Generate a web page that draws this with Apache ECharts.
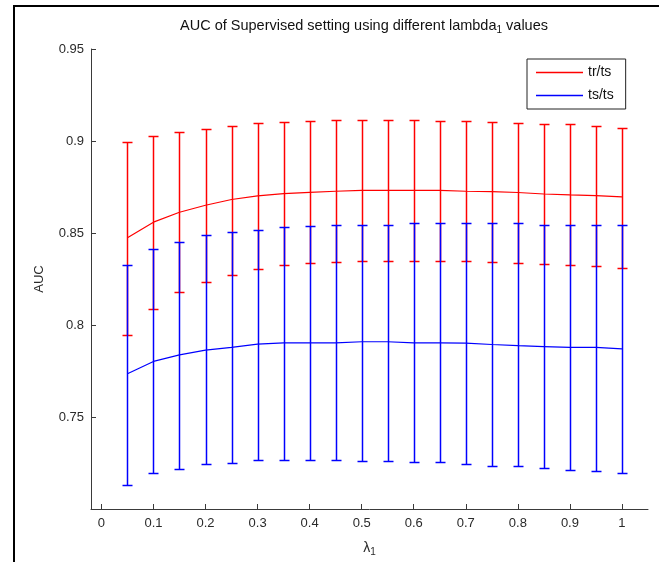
<!DOCTYPE html>
<html>
<head>
<meta charset="utf-8">
<script src="https://cdn.jsdelivr.net/npm/echarts@6/dist/echarts.min.js"></script>
<style>html,body{margin:0;padding:0;background:#fff;}#c{width:659px;height:562px;}</style>
</head>
<body>
<div id="c"></div>
<script>
// ---- data ----
const lambdas = [0.05,0.10,0.15,0.20,0.25,0.30,0.35,0.40,0.45,0.50,0.55,0.60,0.65,0.70,0.75,0.80,0.85,0.90,0.95,1.00];

const trtsMean  = [0.8474,0.8559,0.8613,0.8651,0.8682,0.8702,0.8714,0.8721,0.8727,0.8732,0.8732,0.8732,0.8732,0.8727,0.8725,0.8720,0.8712,0.8707,0.8703,0.8696];
const trtsUpper = [0.8996,0.9027,0.9047,0.9065,0.9083,0.9097,0.9104,0.9111,0.9115,0.9115,0.9115,0.9115,0.9111,0.9110,0.9104,0.9097,0.9090,0.9090,0.9083,0.9070];
const trtsLower = [0.7946,0.8087,0.8178,0.8235,0.8273,0.8304,0.8324,0.8337,0.8344,0.8349,0.8349,0.8349,0.8349,0.8349,0.8344,0.8337,0.8331,0.8324,0.8318,0.8311];

const tstsMean  = [0.7735,0.7802,0.7838,0.7863,0.7878,0.7896,0.7903,0.7903,0.7903,0.7909,0.7909,0.7903,0.7903,0.7901,0.7894,0.7888,0.7883,0.7878,0.7878,0.7870];
const tstsUpper = [0.8324,0.8412,0.8452,0.8487,0.8503,0.8515,0.8530,0.8537,0.8542,0.8546,0.8546,0.8553,0.8553,0.8553,0.8553,0.8553,0.8546,0.8546,0.8542,0.8541];
const tstsLower = [0.7128,0.7193,0.7218,0.7243,0.7250,0.7268,0.7268,0.7268,0.7268,0.7263,0.7263,0.7258,0.7258,0.7243,0.7236,0.7231,0.7223,0.7213,0.7206,0.7198];

const xTicks = [0,0.1,0.2,0.3,0.4,0.5,0.6,0.7,0.8,0.9,1];
const yTicks = [0.75,0.8,0.85,0.9,0.95];

const seriesNames = ['tr/ts','ts/ts'];
const seriesColors = ['#ff0000','#0000ff'];
const titleText = 'AUC of Supervised setting using different lambda{sub|1} values';

// ---- build ----
const FONT = '"Liberation Sans", Arial, Helvetica, sans-serif';
function pairs(xs, ys){ return xs.map((x,i)=>[x, ys[i]]); }
function bars(xs, lo, hi){ return xs.map((x,i)=>[x, lo[i], hi[i]]); }

function errRender(color){
  return function(params, api){
    const x = api.value(0);
    const pLo = api.coord([x, api.value(1)]);
    const pHi = api.coord([x, api.value(2)]);
    const cx = Math.round(pLo[0]) + 0.5;
    const yl = Math.round(pLo[1]) + 0.5;
    const yh = Math.round(pHi[1]) + 0.5;
    const hw = 5;
    const st = {stroke: color, lineWidth: 1.5};
    return {type:'group', children:[
      {type:'line', shape:{x1:cx, y1:yl, x2:cx, y2:yh}, style:st},
      {type:'line', shape:{x1:cx-hw, y1:yl, x2:cx+hw, y2:yl}, style:st},
      {type:'line', shape:{x1:cx-hw, y1:yh, x2:cx+hw, y2:yh}, style:st}
    ]};
  };
}

const chart = echarts.init(document.getElementById('c'), null, {renderer:'canvas'});
const axisCol = '#3a3a3a';
const labCol = '#2a2a2a';

chart.setOption({
  animation: false,
  backgroundColor: '#fff',
  color: seriesColors,
  textStyle: {fontFamily: FONT},
  grid: {left: 91, top: 49, right: 11, bottom: 52, containLabel: false},
  xAxis: {
    type: 'value', min: -0.02, max: 1.05,
    name: '{a|λ}{sub|1}', nameLocation: 'middle', nameGap: 30,
    nameTextStyle: {rich: {a:{fontSize:14, color:labCol, fontFamily:FONT}, sub:{fontSize:10, color:labCol, fontFamily:FONT, padding:[8,0,0,0]}}},
    axisLine: {show:true, onZero:false, lineStyle:{color:axisCol, width:1}},
    axisTick: {show:true, inside:true, length:5, customValues: xTicks, lineStyle:{color:axisCol}},
    axisLabel: {show:true, customValues: xTicks, fontSize:13, color:labCol, margin:8, fontFamily:FONT, formatter: v => String(+v.toFixed(2))},
    splitLine: {show:false}
  },
  yAxis: {
    type: 'value', min: 0.70, max: 0.95,
    name: 'AUC', nameLocation: 'middle', nameGap: 45,
    nameTextStyle: {fontSize:13, color:labCol, fontFamily:FONT},
    axisLine: {show:true, onZero:false, lineStyle:{color:axisCol, width:1}},
    axisTick: {show:true, inside:true, length:5, customValues: yTicks, lineStyle:{color:axisCol}},
    axisLabel: {show:true, customValues: yTicks, fontSize:13, color:labCol, margin:7, fontFamily:FONT, formatter: v => String(+v.toFixed(2))},
    splitLine: {show:false}
  },
  legend: {
    data: seriesNames.map((n, i) => ({name: n, icon: 'rect', itemStyle: {color: seriesColors[i], borderWidth: 0, opacity: 1}})),
    orient: 'vertical', left: 527, top: 59,
    padding: [6, 12, 6, 9],
    itemWidth: 47, itemHeight: 1.3, itemGap: 8,
    borderColor: '#222', borderWidth: 1, backgroundColor:'#fff',
    textStyle: {fontSize:14, color:'#111', fontFamily:FONT, lineHeight:15},
    selectedMode: false
  },
  graphic: [
    {type:'text', x: 364, y: 16, z: 100,
     style:{text: titleText, fontSize:14.5, fontFamily:FONT, fill:'#111', align:'center',
       rich:{sub:{fontSize:10, fontFamily:FONT, fill:'#111', padding:[9,0,0,0]}}}},
    {type:'line', shape:{x1:13, y1:6, x2:659, y2:6}, style:{stroke:'#000', lineWidth:2}, z:100},
    {type:'line', shape:{x1:14, y1:5, x2:14, y2:562}, style:{stroke:'#000', lineWidth:2}, z:100}
  ],
  series: [
    {type:'custom', name:'tr/ts err', data: bars(lambdas, trtsLower, trtsUpper), renderItem: errRender(seriesColors[0]), clip:false, silent:true},
    {type:'line', name: seriesNames[0], data: pairs(lambdas, trtsMean), symbol:'none', lineStyle:{color:seriesColors[0], width:1.2}, itemStyle:{color:seriesColors[0]}},
    {type:'custom', name:'ts/ts err', data: bars(lambdas, tstsLower, tstsUpper), renderItem: errRender(seriesColors[1]), clip:false, silent:true},
    {type:'line', name: seriesNames[1], data: pairs(lambdas, tstsMean), symbol:'none', lineStyle:{color:seriesColors[1], width:1.2}, itemStyle:{color:seriesColors[1]}}
  ]
});
</script>
</body>
</html>
